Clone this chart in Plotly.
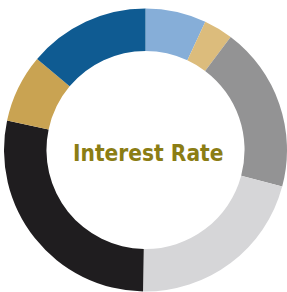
import plotly.graph_objects as go

labels = ["Segment A", "Segment B", "Segment C", "Segment D", "Segment E", "Segment F", "Segment G"]
values = [25, 12, 68, 76, 101, 28, 50]
colors = ["#86aed8", "#dcbc7c", "#939394", "#d6d6d8", "#1f1d1f", "#c9a352", "#0f5b92"]
center_text = "Interest Rate"

W, H = 287, 292
cx, cy, r = 145.5, 150.0, 141.5

fig = go.Figure(go.Pie(
    labels=labels, values=values, sort=False, direction="clockwise", rotation=0,
    hole=0.70, marker=dict(colors=colors, line=dict(width=0)),
    textinfo="none", showlegend=False,
    domain=dict(x=[(cx - r) / W, (cx + r) / W], y=[(H - cy - r) / H, (H - cy + r) / H]),
))
fig.add_annotation(
    text="<b>" + center_text + "</b>", x=148 / W, y=(H - 153.5) / H, xref="paper", yref="paper",
    showarrow=False, font=dict(family="DejaVu Sans Condensed", size=22.5, color="#8b7d14"),
)
fig.update_layout(width=W, height=H, margin=dict(l=0, r=0, t=0, b=0),
                  paper_bgcolor="white", plot_bgcolor="white")
fig.write_html("out.html", config={"displayModeBar": False},
               post_script="document.body.style.margin='0';")
